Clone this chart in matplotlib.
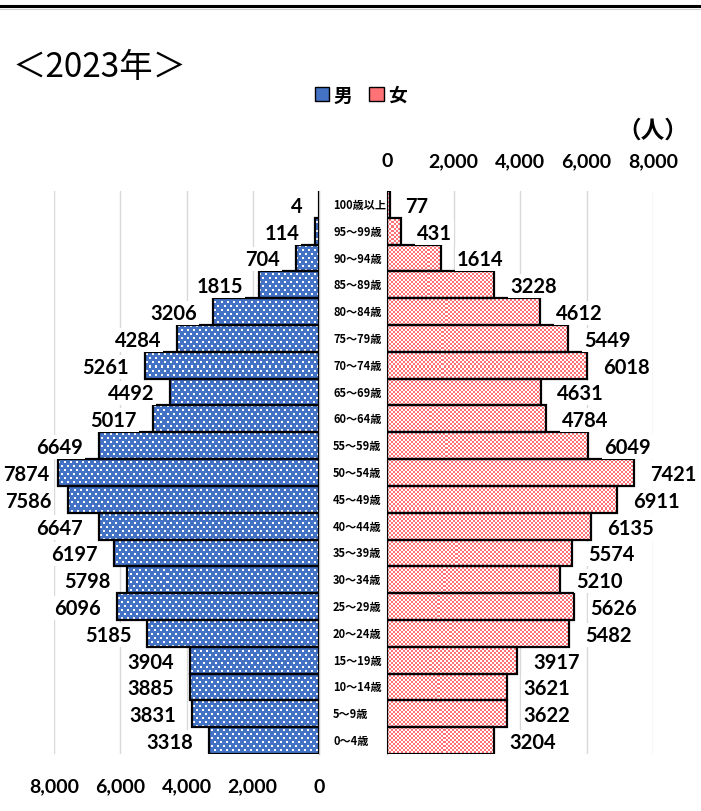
import numpy as np
import matplotlib
matplotlib.use("Agg")
import matplotlib.pyplot as plt
from matplotlib.patches import Patch
from matplotlib.lines import Line2D
from matplotlib import transforms
from matplotlib.font_manager import FontProperties

# ---------------- data ----------------
ages = ['0～4歳', '5～9歳', '10～14歳', '15～19歳', '20～24歳', '25～29歳',
        '30～34歳', '35～39歳', '40～44歳', '45～49歳', '50～54歳', '55～59歳',
        '60～64歳', '65～69歳', '70～74歳', '75～79歳', '80～84歳', '85～89歳',
        '90～94歳', '95～99歳', '100歳以上']
male = [3318, 3831, 3885, 3904, 5185, 6096, 5798, 6197, 6647, 7586, 7874,
        6649, 5017, 4492, 5261, 4284, 3206, 1815, 704, 114, 4]
female = [3204, 3622, 3621, 3917, 5482, 5626, 5210, 5574, 6135, 6911, 7421,
          6049, 4784, 4631, 6018, 5449, 4612, 3228, 1614, 431, 77]
xticks = [0, 2000, 4000, 6000, 8000]
title = '＜2023年＞'
unit = '（人）'
legend_labels = ['男', '女']

# ---------------- style ----------------
JP = ['Noto Sans CJK JP', 'DejaVu Sans']
NUM = ['Lato', 'DejaVu Sans']
BLUE = '#4472C4'
PINK = '#FF7276'
W_PX, H_PX = 701, 812

fig = plt.figure(figsize=(W_PX / 100, H_PX / 100), dpi=100)

ax_top_px, ax_bot_px = 192.0, 755.0
axL_x0, axL_x1 = 54.0, 319.0
axR_x0, axR_x1 = 387.0, 653.0
bottom = 1 - ax_bot_px / H_PX
height = (ax_bot_px - ax_top_px) / H_PX
axL = fig.add_axes([axL_x0 / W_PX, bottom, (axL_x1 - axL_x0) / W_PX, height])
axR = fig.add_axes([axR_x0 / W_PX, bottom, (axR_x1 - axR_x0) / W_PX, height])

y = np.arange(len(ages))
ymin, ymax = -0.5, len(ages) - 0.5
axL.set_xlim(8000, 0)
axR.set_xlim(0, 8000)
axR.xaxis.tick_top()
for ax in (axL, axR):
    ax.set_ylim(ymin, ymax)
    ax.set_yticks([])
    ax.set_xticks(xticks)
    ax.set_xticklabels([f'{v:,}' for v in xticks], fontfamily=NUM,
                       fontweight='bold', fontsize=14)
    ax.grid(axis='x', color='#D9D9D9', lw=1.0)
    ax.set_axisbelow(True)
    for s in ax.spines.values():
        s.set_visible(False)

axL.spines['right'].set_visible(True)
axL.spines['right'].set_color('#BFBFBF')
axL.spines['right'].set_linewidth(1.0)
axR.spines['left'].set_visible(True)
axR.spines['left'].set_color('#BFBFBF')
axR.spines['left'].set_linewidth(1.0)
axL.tick_params(axis='x', length=0, pad=17)
axR.tick_params(axis='x', length=0, pad=16)


def hex2rgb(h):
    h = h.lstrip('#')
    return np.array([int(h[i:i + 2], 16) / 255 for i in (0, 2, 4)])


def texture(w, h, kind):
    img = np.empty((h, w, 3))
    r = np.arange(h)[:, None]
    c = np.arange(w)[None, :]
    if kind == 'dots':
        img[:] = hex2rgb(BLUE)
        m1 = (r % 8 < 2) & (c % 6 < 2)
        m2 = ((r - 4) % 8 < 2) & ((c - 3) % 6 < 2)
        img[m1 | m2] = 1.0
    else:
        img[:] = hex2rgb(PINK)
        m = ((r // 2 + c // 2) % 2) == 0
        img[m] = 1.0
    return img


def draw_side(ax, vals, kind, x0px, x1px):
    w = int(round(x1px - x0px))
    h = int(round(ax_bot_px - ax_top_px))
    pad = 2
    tex = texture(w + 2 * pad, h + 2 * pad, kind)
    xl = ax.get_xlim()
    dx = (xl[1] - xl[0]) / w          # data units per pixel (signed)
    dy = (ymax - ymin) / h
    sh = 0.25                          # quarter-pixel phase shift
    ext = (xl[0] - (pad - sh) * dx, xl[1] + (pad + sh) * dx,
           ymin - (pad + sh) * dy, ymax + (pad - sh) * dy)
    bars = ax.barh(y, vals, height=1.0, facecolor='none', edgecolor='black',
                   linewidth=1.6, zorder=3)
    for b in bars:
        im = ax.imshow(tex, extent=ext, aspect='auto',
                       interpolation='nearest', zorder=2)
        im.set_clip_path(b)
    ax.set_xlim(xl)
    ax.set_ylim(ymin, ymax)
    return bars


draw_side(axL, male, 'dots', axL_x0, axL_x1)
draw_side(axR, female, 'check', axR_x0, axR_x1)

box = dict(boxstyle='square,pad=0.1', fc='white', ec='none')
male_texts = []
for yi, v in zip(y, male):
    t = axL.annotate(str(v), (v, yi), xytext=(-11.5, -1),
                     textcoords='offset points', ha='right', va='center',
                     fontsize=14.5, fontweight='bold', family=NUM, bbox=box,
                     zorder=5)
    male_texts.append(t)
for yi, v in zip(y, female):
    axR.annotate(str(v), (v, yi), xytext=(11.5, -1), textcoords='offset points',
                 ha='left', va='center', fontsize=14.5, fontweight='bold',
                 family=NUM, bbox=box, zorder=5)

# keep labels inside the picture (as the original chart does)
fig.canvas.draw()
renderer = fig.canvas.get_renderer()
for t in male_texts:
    bb = t.get_window_extent(renderer)
    if bb.x0 < 3:
        dx_pt = (3 - bb.x0) * 72 / fig.dpi
        ox, oy = t.xyann
        t.xyann = (ox + dx_pt, oy)

# age labels in the middle column
tr = transforms.blended_transform_factory(fig.transFigure, axL.transData)
for yi, a in zip(y, ages):
    fig.text(333 / W_PX, yi, a, transform=tr, ha='left', va='center',
             fontsize=8, fontweight='bold', family=JP)

# title, unit, legend, top rule
fig.text(12 / W_PX, 1 - 67 / H_PX, title, ha='left', va='center',
         fontsize=24, family=JP)
fig.text(688 / W_PX, 1 - 131 / H_PX, unit, ha='right', va='center',
         fontsize=17, fontweight='bold', family=JP)
handles = [Patch(facecolor=BLUE, edgecolor='black', lw=1.0),
           Patch(facecolor=PINK, edgecolor='black', lw=1.0)]
fig.legend(handles, legend_labels, loc='center',
           bbox_to_anchor=(361 / W_PX, 1 - 96 / H_PX), ncol=2, frameon=False,
           handlelength=0.75, handleheight=0.75, handletextpad=0.25,
           columnspacing=0.9,
           prop=FontProperties(family=JP, weight='bold', size=13.5))
fig.add_artist(Line2D([0, 1], [1 - 7 / H_PX, 1 - 7 / H_PX], color='black',
                      lw=2.2, transform=fig.transFigure))
fig.add_artist(Line2D([0, 1], [1 - 10 / H_PX, 1 - 10 / H_PX], color='#D0D0D0',
                      lw=0.8, transform=fig.transFigure))

fig.savefig('out.png', dpi=100)
